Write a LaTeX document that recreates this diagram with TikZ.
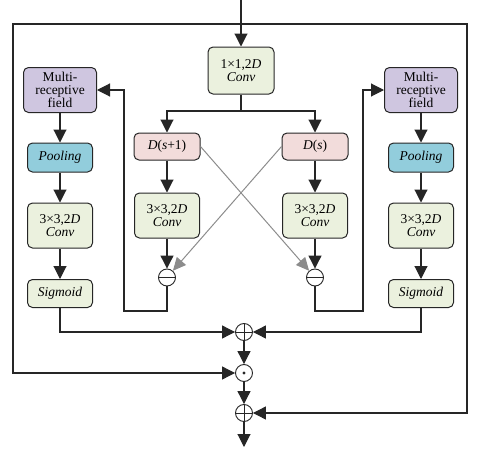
\documentclass[tikz,border=0pt]{standalone}
\usepackage{fontspec}
\setmainfont{Liberation Serif}
\usetikzlibrary{arrows.meta}
\definecolor{mrfcol}{HTML}{CFC6E0}
\definecolor{poolcol}{HTML}{92CDDC}
\definecolor{convcol}{HTML}{EBF1DE}
\definecolor{dcol}{HTML}{F2DCDB}
\definecolor{linecol}{HTML}{262626}

\begin{document}
\begin{tikzpicture}[x=1pt, y=-1pt,
    box/.style={draw=linecol, rounded corners=5pt, line width=1pt, align=center, inner sep=0pt,
        minimum width=65pt, font=\fontsize{13.5}{13}\selectfont},
    mrf/.style={box, fill=mrfcol, minimum width=73pt, minimum height=45pt},
    pool/.style={box, fill=poolcol, minimum height=29pt},
    conv/.style={box, fill=convcol, minimum height=45pt},
    sig/.style={box, fill=convcol, minimum height=28pt},
    dbox/.style={box, fill=dcol, minimum width=66pt, minimum height=27pt},
    op/.style={draw=linecol, circle, minimum size=17pt, inner sep=0pt, line width=0.9pt, fill=white},
    minus/.style={op, path picture={\draw[linecol, line width=0.9pt] (path picture bounding box.west) -- (path picture bounding box.east);}},
    plus/.style={op, path picture={\draw[linecol, line width=0.9pt] (path picture bounding box.west) -- (path picture bounding box.east);
        \draw[linecol, line width=0.9pt] (path picture bounding box.north) -- (path picture bounding box.south);}},
    odot/.style={op, path picture={\fill[linecol] (path picture bounding box.center) circle (1.6pt);}},
    line/.style={draw=linecol, line width=1.1pt},
    arr/.style={line, -{Triangle[length=13pt, width=13pt]}},
    grayarr/.style={draw=gray!90, line width=1pt, -{Triangle[length=13pt, width=12pt]}}
]
    \useasboundingbox (0,0) rectangle (480,450);

    % input and the 1x1 convolution
    \coordinate (in) at (241,0);
    \coordinate (top) at (241,24);
    \node[conv, minimum width=66pt, minimum height=47pt] (c1) at (241,70.5) {1×1,2\textit{D}\\\textit{Conv}};

    % left branch
    \node[mrf] (mrfL) at (60,90) {Multi-\\receptive\\field};
    \node[pool] (poolL) at (60,157.5) {\textit{Pooling}};
    \node[conv] (convL) at (60,225.5) {3×3,2\textit{D}\\\textit{Conv}};
    \node[sig] (sigL) at (60,293.5) {\textit{Sigmoid}};

    % right branch
    \node[mrf] (mrfR) at (421,90) {Multi-\\receptive\\field};
    \node[pool] (poolR) at (421,157.5) {\textit{Pooling}};
    \node[conv] (convR) at (421,225.5) {3×3,2\textit{D}\\\textit{Conv}};
    \node[sig] (sigR) at (421,293.5) {\textit{Sigmoid}};

    % middle branches
    \coordinate (split) at (241,111);
    \node[dbox] (ds1) at (167,146.5) {\textit{D}(\textit{s}+1)};
    \node[dbox] (ds) at (315,146.5) {\textit{D}(\textit{s})};
    \node[conv] (convM1) at (167,215.5) {3×3,2\textit{D}\\\textit{Conv}};
    \node[conv] (convM2) at (315,215.5) {3×3,2\textit{D}\\\textit{Conv}};
    \node[minus] (sub1) at (167,277.5) {};
    \node[minus] (sub2) at (315,277.5) {};
    \coordinate (lb) at (124,311);
    \coordinate (rb) at (363,311);

    % fusion
    \node[plus] (add1) at (244,332) {};
    \node[odot] (mul) at (244,373) {};
    \node[plus] (add2) at (244,413) {};
    \coordinate (out) at (244,447);
    \coordinate (lframe) at (13,373);
    \coordinate (rframe) at (467,413);

    \draw[arr] (in) -- (c1);
    \draw[arr] (top) -| (lframe) -- (mul);
    \draw[arr] (top) -| (rframe) -- (add2);
    \draw[line] (c1) -- (split);
    \draw[arr] (split) -| (ds1);
    \draw[arr] (split) -| (ds);
    \draw[arr] (ds1) -- (convM1);
    \draw[arr] (ds) -- (convM2);
    \draw[arr] (convM1) -- (sub1);
    \draw[arr] (convM2) -- (sub2);
    \draw[grayarr] (ds1.east) -- (sub2);
    \draw[grayarr] (ds.west) -- (sub1);
    \draw[arr] (sub1) |- (lb) |- (mrfL);
    \draw[arr] (sub2) |- (rb) |- (mrfR);

    \draw[arr] (mrfL) -- (poolL);
    \draw[arr] (poolL) -- (convL);
    \draw[arr] (convL) -- (sigL);
    \draw[arr] (mrfR) -- (poolR);
    \draw[arr] (poolR) -- (convR);
    \draw[arr] (convR) -- (sigR);
    \draw[arr] (sigL) |- (add1);
    \draw[arr] (sigR) |- (add1);

    \draw[arr] (add1) -- (mul);
    \draw[arr] (mul) -- (add2);
    \draw[arr] (add2) -- (out);
\end{tikzpicture}
\end{document}
